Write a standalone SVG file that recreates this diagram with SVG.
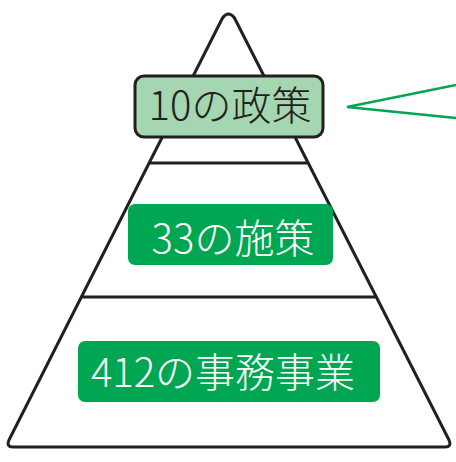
<svg xmlns="http://www.w3.org/2000/svg" width="456" height="462" viewBox="0 0 456 462">
<style>
.edge{fill:none;stroke:#231f20;stroke-width:3;stroke-linejoin:round;stroke-linecap:round}
.lbl{font-family:"Noto Sans CJK JP","Noto Sans",sans-serif;font-size:40px;font-weight:300;text-anchor:middle}
.g{fill:#00a651}
</style>
<rect width="456" height="462" fill="#ffffff"/>
<g id="pyramid">
<path class="edge" d="M222.5 18 Q228.5 10 234.5 18 L449 440 Q452 447 445 447 L13 447 Q6 447 9 440 Z"/>
<line class="edge" x1="151" y1="163" x2="306" y2="163"/>
<line class="edge" x1="83" y1="297" x2="375" y2="297"/>
</g>
<g id="connectors">
<polyline points="456,85 347,107 456,118" fill="none" stroke="#00a651" stroke-width="2.5" stroke-linejoin="miter"/>
</g>
<g id="node-policy">
<rect x="135" y="76" width="188" height="61" rx="9" fill="#a3d6b1" stroke="#231f20" stroke-width="3"/>
<text class="lbl" x="230" y="120" fill="#231f20">10の政策</text>
</g>
<g id="node-measures">
<rect class="g" x="128" y="204" width="205" height="61" rx="7"/>
<text class="lbl" x="233" y="253" fill="#ffffff">33の施策</text>
</g>
<g id="node-projects">
<rect class="g" x="78" y="341" width="302" height="61" rx="7"/>
<text class="lbl" x="223" y="387" fill="#ffffff">412の事務事業</text>
</g>
</svg>
